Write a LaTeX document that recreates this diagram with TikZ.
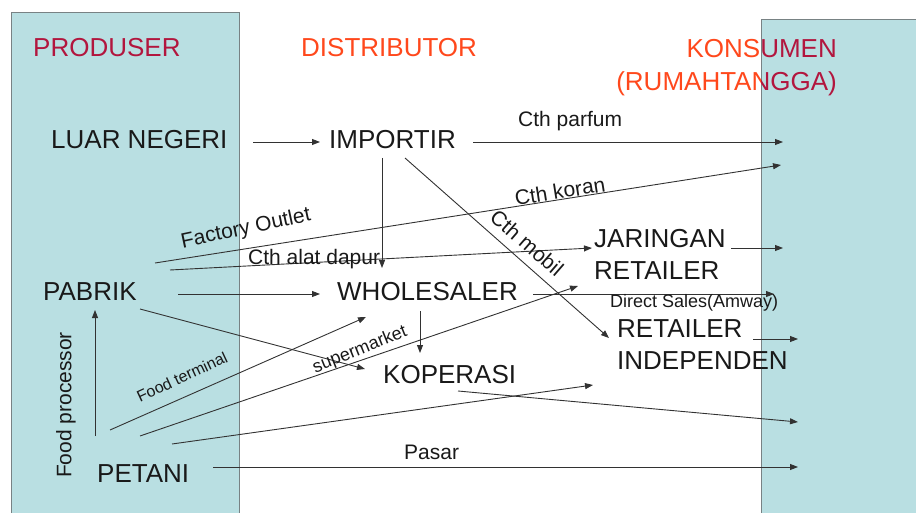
\documentclass[tikz,border=0pt]{standalone}
\usepackage{fontspec}
\setmainfont{Liberation Sans}
\usetikzlibrary{arrows.meta}
\definecolor{boxfill}{RGB}{185,223,226}
\definecolor{boxline}{RGB}{120,130,132}
\definecolor{titleorange}{RGB}{255,72,28}
\definecolor{titlered}{RGB}{178,22,62}
\definecolor{ink}{RGB}{25,25,25}
\definecolor{wire}{RGB}{50,50,50}
\begin{document}
\begin{tikzpicture}[x=1pt,y=-1pt,
  panel/.style={fill=boxfill,draw=boxline,line width=1pt},
  title/.style={font=\fontsize{26}{33}\selectfont,inner sep=0pt},
  actor/.style={font=\fontsize{26}{32}\selectfont,text=ink,inner sep=0pt,align=left},
  lbl/.style={font=\fontsize{21}{24}\selectfont,text=ink,inner sep=0pt},
  smalllbl/.style={font=\fontsize{18}{20}\selectfont,text=ink,inner sep=0pt},
  tinylbl/.style={font=\fontsize{16}{18}\selectfont,text=ink,inner sep=0pt},
  flow/.style={draw=wire,line width=0.9pt,-{Triangle[length=8pt,width=6pt]}}]
\useasboundingbox (0,0) rectangle (916,513);
% panels
\path[panel] (11,516) -- (11,13) -- (239,13) -- (239,516);
\path[panel] (761,516) -- (761,20) -- (920,20) -- (920,516);
% titles
\node[title,text=titlered,anchor=base west] (tprod) at (33,57) {PRODUSER};
\node[title,text=titleorange,anchor=base west] (tdist) at (301,57) {DISTRIBUTOR};
\begin{scope}
\clip (0,0) rectangle (761,513);
\node[title,text=titleorange,anchor=east,align=right] (tkons) at (837,68) {KONSUMEN\\(RUMAHTANGGA)};
\end{scope}
\begin{scope}
\clip (761,0) rectangle (916,513);
\node[title,text=titlered,anchor=east,align=right] (tkonsb) at (837,68) {KONSUMEN\\(RUMAHTANGGA)};
\end{scope}
% actors
\node[actor,anchor=base west] (luar) at (51,149) {LUAR NEGERI};
\node[actor,anchor=base west] (imp) at (329,149) {IMPORTIR};
\node[actor,anchor=base west] (pabrik) at (43,301) {PABRIK};
\node[actor,anchor=base west] (whole) at (337,300) {WHOLESALER};
\node[actor,anchor=west] (jar) at (594,254) {JARINGAN\\RETAILER};
\node[actor,anchor=west] (rind) at (617,345) {RETAILER\\INDEPENDEN};
\node[actor,anchor=base west] (kop) at (383,383) {KOPERASI};
\node[actor,anchor=base west] (petani) at (97,482) {PETANI};
% connector end points
\coordinate (luarOut) at (253,142);   \coordinate (impIn) at (320,142);
\coordinate (impOutA) at (473,142);   \coordinate (konsA) at (783,142);
\coordinate (pabOutA) at (155,263);   \coordinate (konsB) at (781,165);
\coordinate (pabOutB) at (170,270);   \coordinate (jarInA) at (592,248);
\coordinate (pabOutC) at (178,294);   \coordinate (wholeInA) at (320,294);
\coordinate (pabOutD) at (140,309);   \coordinate (kopInA) at (365,369);
\coordinate (impOutB) at (382,158);   \coordinate (wholeInB) at (382,268);
\coordinate (impOutC) at (405,158);   \coordinate (rindInA) at (609,338);
\coordinate (jarOut) at (731,248);    \coordinate (konsC) at (783,248);
\coordinate (wholeOutA) at (533,294); \coordinate (konsD) at (774,294);
\coordinate (wholeOutB) at (420,311); \coordinate (kopInB) at (420,353);
\coordinate (rindOut) at (753,339);   \coordinate (konsE) at (798,339);
\coordinate (kopOut) at (458,391);    \coordinate (konsF) at (798,422);
\coordinate (petOutA) at (110,430);   \coordinate (wholeInC) at (366,317);
\coordinate (petOutB) at (140,436);   \coordinate (jarInB) at (578,286);
\coordinate (petOutC) at (172,444);   \coordinate (rindInB) at (593,385);
\coordinate (petOutD) at (213,467);   \coordinate (konsG) at (798,467);
\coordinate (petOutE) at (95,436);    \coordinate (pabIn) at (95,310);
% connectors
\draw[flow] (luarOut) -- (impIn);
\draw[flow] (impOutA) -- (konsA);
\draw[flow] (pabOutA) -- (konsB);
\draw[flow] (pabOutB) -- (jarInA);
\draw[flow] (pabOutC) -- (wholeInA);
\draw[flow] (pabOutD) -- (kopInA);
\draw[flow] (impOutB) -- (wholeInB);
\draw[flow] (impOutC) -- (rindInA);
\draw[flow] (jarOut) -- (konsC);
\draw[flow] (wholeOutA) -- (konsD);
\draw[flow] (wholeOutB) -- (kopInB);
\draw[flow] (rindOut) -- (konsE);
\draw[flow] (kopOut) -- (konsF);
\draw[flow] (petOutA) -- (wholeInC);
\draw[flow] (petOutB) -- (jarInB);
\draw[flow] (petOutC) -- (rindInB);
\draw[flow] (petOutD) -- (konsG);
\draw[flow] (petOutE) -- (pabIn);
% labels
\node[lbl,anchor=base west] (lparfum) at (518,127) {Cth parfum};
\node[lbl,rotate=12] (lfactory) at (246,229) {Factory Outlet};
\node[lbl,rotate=9] (lkoran) at (560,191) {Cth koran};
\node[lbl,anchor=base west] (ldapur) at (248,265) {Cth alat dapur};
\node[lbl,rotate=-41] (lmobil) at (527,243) {Cth mobil};
\node[smalllbl,anchor=base west] (lamway) at (610,308) {Direct Sales(Amway)};
\node[smalllbl,rotate=22] (lsuper) at (360,350) {supermarket};
\node[tinylbl,rotate=25] (lterminal) at (182,377) {Food terminal};
\node[lbl,rotate=90] (lprocessor) at (66,405) {Food processor};
\node[lbl,anchor=base west] (lpasar) at (404,459) {Pasar};
\end{tikzpicture}
\end{document}
